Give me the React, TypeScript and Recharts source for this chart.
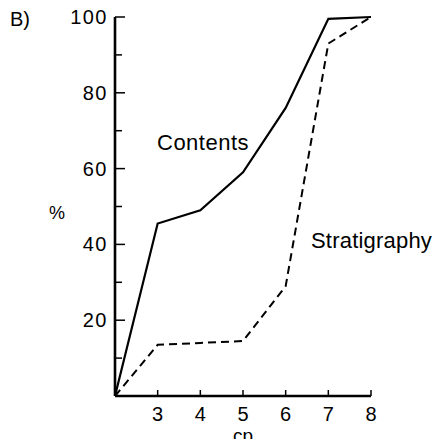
import React from 'react';
import { LineChart, Line, XAxis, YAxis } from 'recharts';

// cp classes on the x axis
const cpValues = [2, 3, 4, 5, 6, 7, 8];
// cumulative % per series
const contentsPct = [0, 45.5, 49, 59, 76, 99.5, 100];
const stratigraphyPct = [0, 13.5, 14, 14.5, 29, 93, 100];

const xTicks = [2, 3, 4, 5, 6, 7, 8];
const yTicks = [0, 10, 20, 30, 40, 50, 60, 70, 80, 90, 100];

const data = cpValues.map((cp, i) => ({
  cp,
  contents: contentsPct[i],
  stratigraphy: stratigraphyPct[i],
}));

const FONT = '"Liberation Sans", Arial, Helvetica, sans-serif';

const YTick = (props: any) => {
  const { x, y, payload } = props;
  const v = payload.value as number;
  const major = v % 20 === 0;
  return (
    <g>
      {v > 0 && <line x1={x} y1={y} x2={x + (major ? 10 : 7)} y2={y} stroke="#000" strokeWidth={1.5} />}
      {major && v > 0 && (
        <text
          x={x - 7}
          y={y}
          textAnchor="end"
          dominantBaseline="central"
          fontSize={20}
          letterSpacing={1.5}
          fontFamily={FONT}
          fill="#000"
        >
          {v}
        </text>
      )}
    </g>
  );
};

const XTick = (props: any) => {
  const { x, y, payload } = props;
  const v = payload.value as number;
  if (v === 2) return <g />;
  return (
    <g>
      <line x1={x} y1={y} x2={x} y2={y - 6} stroke="#000" strokeWidth={1.5} />
      <text x={x} y={y + 18} textAnchor="middle" dominantBaseline="central" fontSize={20} fontFamily={FONT} fill="#000">
        {v}
      </text>
    </g>
  );
};

const labelStyle: React.CSSProperties = {
  position: 'absolute',
  fontFamily: FONT,
  color: '#000',
  lineHeight: 1,
  whiteSpace: 'nowrap',
};

export default function App() {
  return (
    <div style={{ position: 'absolute', left: 0, top: 0, width: 438, height: 439, background: '#fff', overflow: 'hidden' }}>
      <LineChart width={438} height={439} data={data} margin={{ top: 17, right: 67, left: 0, bottom: 0 }}>
        <XAxis
          dataKey="cp"
          type="number"
          domain={[2, 8]}
          ticks={xTicks}
          height={43}
          tickSize={0}
          tickMargin={0}
          tickLine={false}
          axisLine={{ stroke: '#000', strokeWidth: 2.4 }}
          tick={<XTick />}
          interval={0}
        />
        <YAxis
          type="number"
          domain={[0, 100]}
          ticks={yTicks}
          width={115}
          tickSize={0}
          tickMargin={0}
          tickLine={false}
          axisLine={{ stroke: '#000', strokeWidth: 2.6 }}
          tick={<YTick />}
          interval={0}
        />
        <Line
          type="linear"
          dataKey="contents"
          stroke="#000"
          strokeWidth={2.2}
          dot={false}
          isAnimationActive={false}
        />
        <Line
          type="linear"
          dataKey="stratigraphy"
          stroke="#000"
          strokeWidth={2}
          strokeDasharray="8 5"
          dot={false}
          isAnimationActive={false}
        />
      </LineChart>
      <div style={{ ...labelStyle, left: 10, top: 9, fontSize: 20 }}>B)</div>
      <div style={{ ...labelStyle, left: 49, top: 204, fontSize: 18 }}>%</div>
      <div style={{ ...labelStyle, left: 157, top: 132, fontSize: 22, letterSpacing: 0.5 }}>Contents</div>
      <div style={{ ...labelStyle, left: 311, top: 230, fontSize: 22, letterSpacing: 0.2 }}>Stratigraphy</div>
      <div style={{ ...labelStyle, left: 233, top: 426, fontSize: 19 }}>cp</div>
    </div>
  );
}
